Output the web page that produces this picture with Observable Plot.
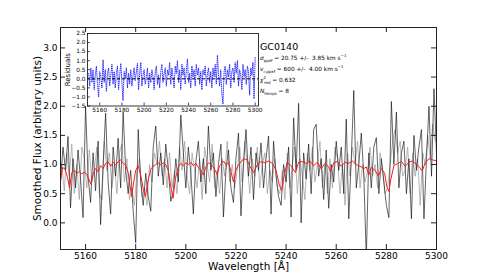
<!DOCTYPE html>
<html><head><meta charset="utf-8">
<script src="https://cdn.jsdelivr.net/npm/d3@7"></script>
<script src="https://cdn.jsdelivr.net/npm/@observablehq/plot@0.6"></script>
<style>
body{margin:0;background:#fff;}
#wrap{position:relative;width:485px;height:277px;font-family:"DejaVu Sans",sans-serif;overflow:hidden;}
#wrap svg{position:absolute;}
.ann{position:absolute;left:260px;font-size:5.8px;white-space:pre;color:#000;line-height:1;}
.ann i{font-style:italic;}
.ann sub,.ann sup{font-size:68%;line-height:0;}
.gc{position:absolute;left:260px;top:42px;font-size:9.5px;line-height:1;color:#000;}
</style></head><body><div id="wrap"></div>
<script>
// ---- data ----
const blackStart = 5150;   // Å, 1 Å grid
const fluxBlack = [
0.7,1.3,0.9,1.48,0.26,1.1,0.6,1.25,0.75,0.09,
2.0,0.8,0.35,1.2,0.55,1.4,-0.03,1.0,1.88,0.7,
0.15,1.3,0.8,1.45,0.6,1.9,0.9,0.5,0.9,0.2,
-0.34,1.6,0.7,0.3,0.85,0.45,0.2,1.3,1.66,0.8,
1.2,0.65,1.35,0.9,0.37,0.55,1.1,0.7,1.85,1.2,
0.6,1.3,0.85,0.15,1.05,1.4,0.7,1.1,0.5,1.66,
0.9,1.2,0.45,1.0,1.35,0.1,0.9,1.25,0.6,0.35,
1.1,1.54,0.12,1.0,1.6,0.8,1.3,0.4,1.2,0.9,
1.37,0.6,1.1,1.49,0.15,1.4,0.8,0.45,0.3,1.0,
0.7,1.3,0.1,1.8,0.9,2.05,0.0,1.2,0.75,1.35,
0.5,1.6,1.69,0.8,1.1,0.4,1.25,0.25,1.0,0.7,
1.4,0.9,1.3,0.5,1.78,0.07,1.1,2.27,0.6,1.0,
1.54,0.8,-0.6,1.2,0.6,1.3,1.46,0.5,1.1,0.7,
0.3,0.09,2.08,1.0,1.9,0.6,1.2,1.4,0.5,1.1,
0.07,1.5,0.9,1.3,1.6,0.07,1.1,2.0,0.8,2.3,
1.2];
const grayStart = 5150.5;  // Å, 1 Å grid
const fluxGray = [
1.0,0.55,1.2,0.8,1.35,0.5,1.0,0.4,1.3,1.1,
0.6,1.25,0.7,0.9,1.3,0.5,0.4,1.4,0.9,1.2,
0.6,1.0,0.5,1.2,1.35,0.7,1.1,0.4,0.6,0.3,
0.9,1.1,0.45,0.6,0.3,1.0,0.7,1.2,1.0,1.4,
0.8,1.1,0.6,1.2,0.6,0.9,0.5,1.3,0.9,1.4,
0.8,0.5,1.2,0.9,0.6,1.1,0.4,1.3,1.0,0.7,
1.35,0.6,0.9,0.5,1.1,0.8,1.4,0.7,1.0,0.6,
0.9,1.3,0.7,1.4,1.0,0.5,1.1,0.8,1.3,0.6,
1.0,1.2,0.5,0.9,0.7,1.1,0.6,0.5,0.9,0.4,
1.2,0.6,1.0,1.3,0.5,1.1,0.8,0.4,1.2,0.9,
1.3,0.7,1.0,1.4,0.6,1.0,0.5,1.1,0.6,1.3,
1.1,0.5,1.0,0.3,1.2,0.8,1.3,1.0,1.4,0.6,
1.0,0.7,0.9,1.3,0.8,1.0,0.6,1.2,0.9,0.5,
0.6,1.0,1.4,1.6,1.2,1.4,0.8,0.9,1.3,0.5,
1.2,0.8,1.1,0.3,1.2,1.0,1.5,1.1,1.7,1.4];
const modelWave = [5150,5150.8,5151.8,5152.8,5153.6,5154.5,5155.5,5156.5,5157.5,5158.5,5159.5,5160.5,5161.3,5162.2,5163,5164,5165,5166,5167,5168,5169,5170,5171,5172,5173,5174,5175,5176,5177,5177.8,5178.4,5179.2,5180,5181,5182,5183,5183.9,5184.8,5186,5187,5188,5189,5190,5191,5192,5193,5194,5194.9,5195.8,5197,5198,5199,5200,5201,5202,5203,5204,5205,5206,5207,5208,5209,5210,5211,5212.5,5213.5,5215,5216,5217,5218,5219,5220,5221,5222,5223,5224.5,5225.5,5227.1,5228.5,5230,5231.5,5233,5234.5,5236,5237.3,5238.2,5239.2,5240.4,5242,5243.7,5245,5246.5,5248,5249.5,5251,5252.5,5254,5255.5,5257,5257.7,5259,5260.5,5262,5263.5,5265,5266.5,5268,5269.5,5271,5272,5273,5274,5275.5,5276.8,5278,5279.3,5280.2,5281,5281.8,5283,5284.5,5286,5287.5,5289,5290.5,5292,5293.3,5294.3,5295.5,5297,5298.5,5300];
const modelFlux = [0.72,0.95,0.92,0.78,0.6,0.86,0.9,0.85,0.88,0.84,0.87,0.83,0.75,0.66,0.84,0.93,0.88,0.98,0.93,1.02,1.05,0.97,1.04,0.99,1.05,1.08,1.02,0.99,0.86,0.62,0.45,0.7,0.9,0.98,0.82,0.58,0.45,0.7,0.92,0.97,1.0,1.03,0.99,1.03,1.0,0.9,0.62,0.42,0.75,0.96,1.02,0.98,1.03,1.0,1.04,0.98,1.02,0.95,0.9,0.82,0.96,1.03,1.0,0.96,0.83,0.98,1.06,1.0,1.03,0.88,0.7,0.9,1.0,1.04,1.1,1.08,0.97,0.86,1.0,1.05,1.03,1.06,1.02,0.9,0.65,0.55,0.8,1.04,0.98,0.86,1.04,1.05,1.02,1.06,0.98,1.04,0.93,1.02,0.96,0.88,1.03,1.05,0.97,1.04,1.02,1.06,1.0,0.97,0.93,0.96,0.82,0.95,0.9,0.8,0.93,0.85,0.62,0.54,0.75,0.98,1.02,1.05,0.97,1.04,1.06,1.0,0.95,0.89,1.03,1.1,1.08,1.06];
const resStart = 5150;  // Å, 1 Å grid
const residuals = [
0.3,-0.4,0.6,-0.2,0.5,-0.6,0.2,0.7,-0.3,-1.0,
0.4,0.1,-0.5,1.05,-0.2,0.5,-0.7,0.3,0.6,-0.4,
0.2,0.8,-0.3,0.4,-0.5,0.3,0.7,-0.6,0.2,0.85,
-0.2,-1.2,0.4,0.0,0.6,-0.5,0.3,-0.3,0.5,-0.4,
0.2,0.6,-0.1,0.4,0.85,-0.6,0.3,0.9,-0.4,0.2,
0.5,-0.3,0.1,0.6,-0.5,0.3,-0.2,0.5,0.1,-0.6,
0.4,0.7,-0.3,0.2,-0.5,0.4,0.8,-0.2,0.3,0.6,
-0.4,0.5,0.2,0.9,-0.3,0.6,0.1,-0.5,0.7,0.3,
1.0,-0.2,0.5,-0.6,0.8,0.2,0.6,-0.3,0.4,1.1,
-0.2,0.3,-0.5,0.7,0.1,0.5,-0.4,0.8,0.2,0.6,
-0.3,0.4,-0.6,0.5,0.2,0.7,-0.4,0.3,0.6,-0.2,
0.4,-0.5,0.6,0.1,0.8,-0.3,1.3,0.2,-0.4,0.5,
-0.8,-1.4,0.4,0.7,-0.3,0.5,0.1,0.8,-0.5,0.4,
0.6,-0.2,0.9,0.3,1.0,-0.4,0.5,0.2,-0.6,0.8,
0.1,0.5,-0.3,0.7,0.4,-0.9,0.6,0.2,0.9,-1.1,1.2];
const xTicks = [5160,5180,5200,5220,5240,5260,5280,5300];
const yTicks = [0.0,0.5,1.0,1.5,2.0,2.5,3.0];
const resYTicks = [-1.5,-1.0,-0.5,0.0,0.5,1.0,1.5,2.0,2.5];
const resXTicks = [5160,5180,5200,5220,5240,5260,5280,5300];
const label = {name:"GC0140", x:"Wavelength [Å]", y:"Smoothed Flux (arbitrary units)", res:"Residuals"};

// ---- tables ----
const black = fluxBlack.map((f,i)=>({w:blackStart+i,f}));
const gray = fluxGray.map((f,i)=>({w:grayStart+i,f}));
const model = modelWave.map((w,i)=>({w,f:modelFlux[i]}));
const res = residuals.map((r,i)=>({w:resStart+i,r}));

const W=485,H=277,ML=60,MR=49,MT=27,MB=28;
const PH=H-MT-MB;
const fmt1 = d3.format(".1f");

const main = Plot.plot({
  width:W,height:H,marginLeft:ML,marginRight:MR,marginTop:MT,marginBottom:MB,
  style:{fontFamily:"DejaVu Sans",fontSize:"9px",background:"transparent",overflow:"visible",color:"#000"},
  x:{domain:[5150,5300]},
  y:{domain:[-0.457,3.35]},
  marks:[
    Plot.line(gray,{x:"w",y:"f",stroke:"#999",strokeWidth:0.7,clip:true}),
    Plot.line(black,{x:"w",y:"f",stroke:"#111",strokeWidth:0.65,clip:true}),
    Plot.line(model,{x:"w",y:"f",stroke:"#ff1a1a",strokeWidth:1,clip:true}),
    Plot.frame({stroke:"#222",strokeWidth:1}),
    Plot.tickX(xTicks,{x:d=>d,insetTop:PH-5,stroke:"#222"}),
    Plot.tickX(xTicks,{x:d=>d,insetBottom:PH-5,stroke:"#222"}),
    Plot.tickY(yTicks,{y:d=>d,insetRight:W-ML-MR-5,stroke:"#222"}),
    Plot.tickY(yTicks,{y:d=>d,insetLeft:W-ML-MR-5,stroke:"#222"}),
    Plot.axisX(xTicks,{tickSize:0,tickPadding:3,label:null,tickFormat:d=>String(d),fontSize:9}),
    Plot.axisY(yTicks,{tickSize:0,tickPadding:3,label:null,tickFormat:fmt1,fontSize:9}),
    Plot.text([label.x],{frameAnchor:"bottom",lineAnchor:"middle",dy:17.5,text:d=>d,fontSize:10.5,fill:"#000"}),
    Plot.text([label.y],{frameAnchor:"left",textAnchor:"middle",lineAnchor:"middle",dx:-23,rotate:-90,text:d=>d,fontSize:10.5,fill:"#000"})
  ]
});
main.style.left="0px";main.style.top="0px";
const wrap=document.getElementById("wrap");
wrap.appendChild(main);

// inset
const IL=87,IR=258,IT=32.5,IB=105;
const iML=25,iMR=6,iMT=3,iMB=12;
const iPW=IR-IL, iPH=IB-IT;
const inset = Plot.plot({
  width:iML+iPW+iMR,height:iMT+iPH+iMB,marginLeft:iML,marginRight:iMR,marginTop:iMT,marginBottom:iMB,
  style:{fontFamily:"DejaVu Sans",fontSize:"5.8px",background:"transparent",overflow:"visible",color:"#000"},
  x:{domain:[5149,5303]},
  y:{domain:[-1.5,2.5]},
  marks:[
    Plot.frame({fill:"white"}),
    Plot.line(res,{x:"w",y:"r",stroke:"#1a1aff",strokeWidth:0.9,strokeDasharray:"0.7,1.4",clip:true}),
    Plot.ruleY([0],{stroke:"#000",strokeWidth:1,strokeDasharray:"3,2"}),
    Plot.frame({stroke:"#222",strokeWidth:0.9}),
    Plot.tickX(resXTicks,{x:d=>d,insetTop:iPH-3,stroke:"#222",strokeWidth:0.8}),
    Plot.tickY(resYTicks,{y:d=>d,insetRight:iPW-3,stroke:"#222",strokeWidth:0.8}),
    Plot.axisX(resXTicks,{tickSize:0,tickPadding:2,label:null,tickFormat:d=>String(d),fontSize:5.8}),
    Plot.axisY(resYTicks,{tickSize:0,tickPadding:2,label:null,tickFormat:fmt1,fontSize:5.8}),
    Plot.text([label.res],{frameAnchor:"left",textAnchor:"middle",lineAnchor:"middle",dx:-19.5,rotate:-90,text:d=>d,fontSize:7,fill:"#000"})
  ]
});
inset.style.left=(IL-iML)+"px";inset.style.top=(IT-iMT)+"px";
wrap.appendChild(inset);

// annotations
const gc=document.createElement("div");gc.className="gc";gc.textContent=label.name;wrap.appendChild(gc);
const lines=[
  ['<i>σ</i><sub>ppxf</sub> = 20.75 +/-  3.85 km s<sup>−1</sup>',56],
  ['<i>v</i><sub>r,ppxf</sub> = 600 +/-  4.00 km s<sup>−1</sup>',67],
  ['<i>χ</i><sup>2</sup><sub style="margin-left:-2px">red</sub> = 0.632',78],
  ['<i>N</i><sub>temps</sub> = 8',89]
];
for(const [h,t] of lines){const d=document.createElement("div");d.className="ann";d.style.top=t+"px";d.innerHTML=h;wrap.appendChild(d);}
</script></body></html>
